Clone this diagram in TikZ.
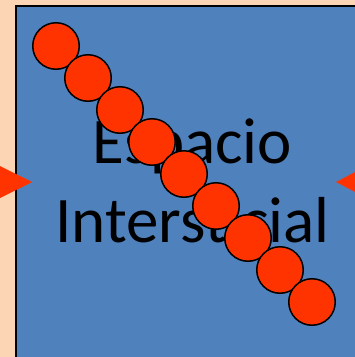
\documentclass[tikz,border=0pt]{standalone}
\usepackage{fontspec}
\setmainfont{Carlito}
\definecolor{peach}{HTML}{FCD5B5}
\definecolor{boxblue}{HTML}{4F81BD}
\definecolor{ballred}{HTML}{FF3300}
\tikzset{
  ball/.style={circle, draw=black, line width=1.5pt, fill=ballred, minimum size=46.5pt, inner sep=0pt},
  bigtext/.style={anchor=base, inner sep=0pt, font=\fontsize{65}{78}\selectfont, text=black},
  pointer/.style={fill=ballred, draw=none}
}
\begin{document}
\begin{tikzpicture}[x=1pt,y=-1pt]
\useasboundingbox (0,0) rectangle (355,357);
\clip (0,0) rectangle (355,357);
\fill[peach] (0,0) rectangle (355,357);
\draw[fill=boxblue, line width=2pt] (16,6) rectangle (380,380);
\node[bigtext] (t1) at (192.5,163) {Espacio};
\node[bigtext] (t2) at (192.5,242) {Intersticial};
\foreach \i in {0,...,8} {
  \node[ball] (c\i) at ({56+32*\i},{46+32*\i}) {};
}
\fill[pointer] (-2,165) -- (32,182) -- (-2,199) -- cycle;
\fill[pointer] (336,182) -- (358,170.5) -- (358,193.5) -- cycle;
\end{tikzpicture}
\end{document}
